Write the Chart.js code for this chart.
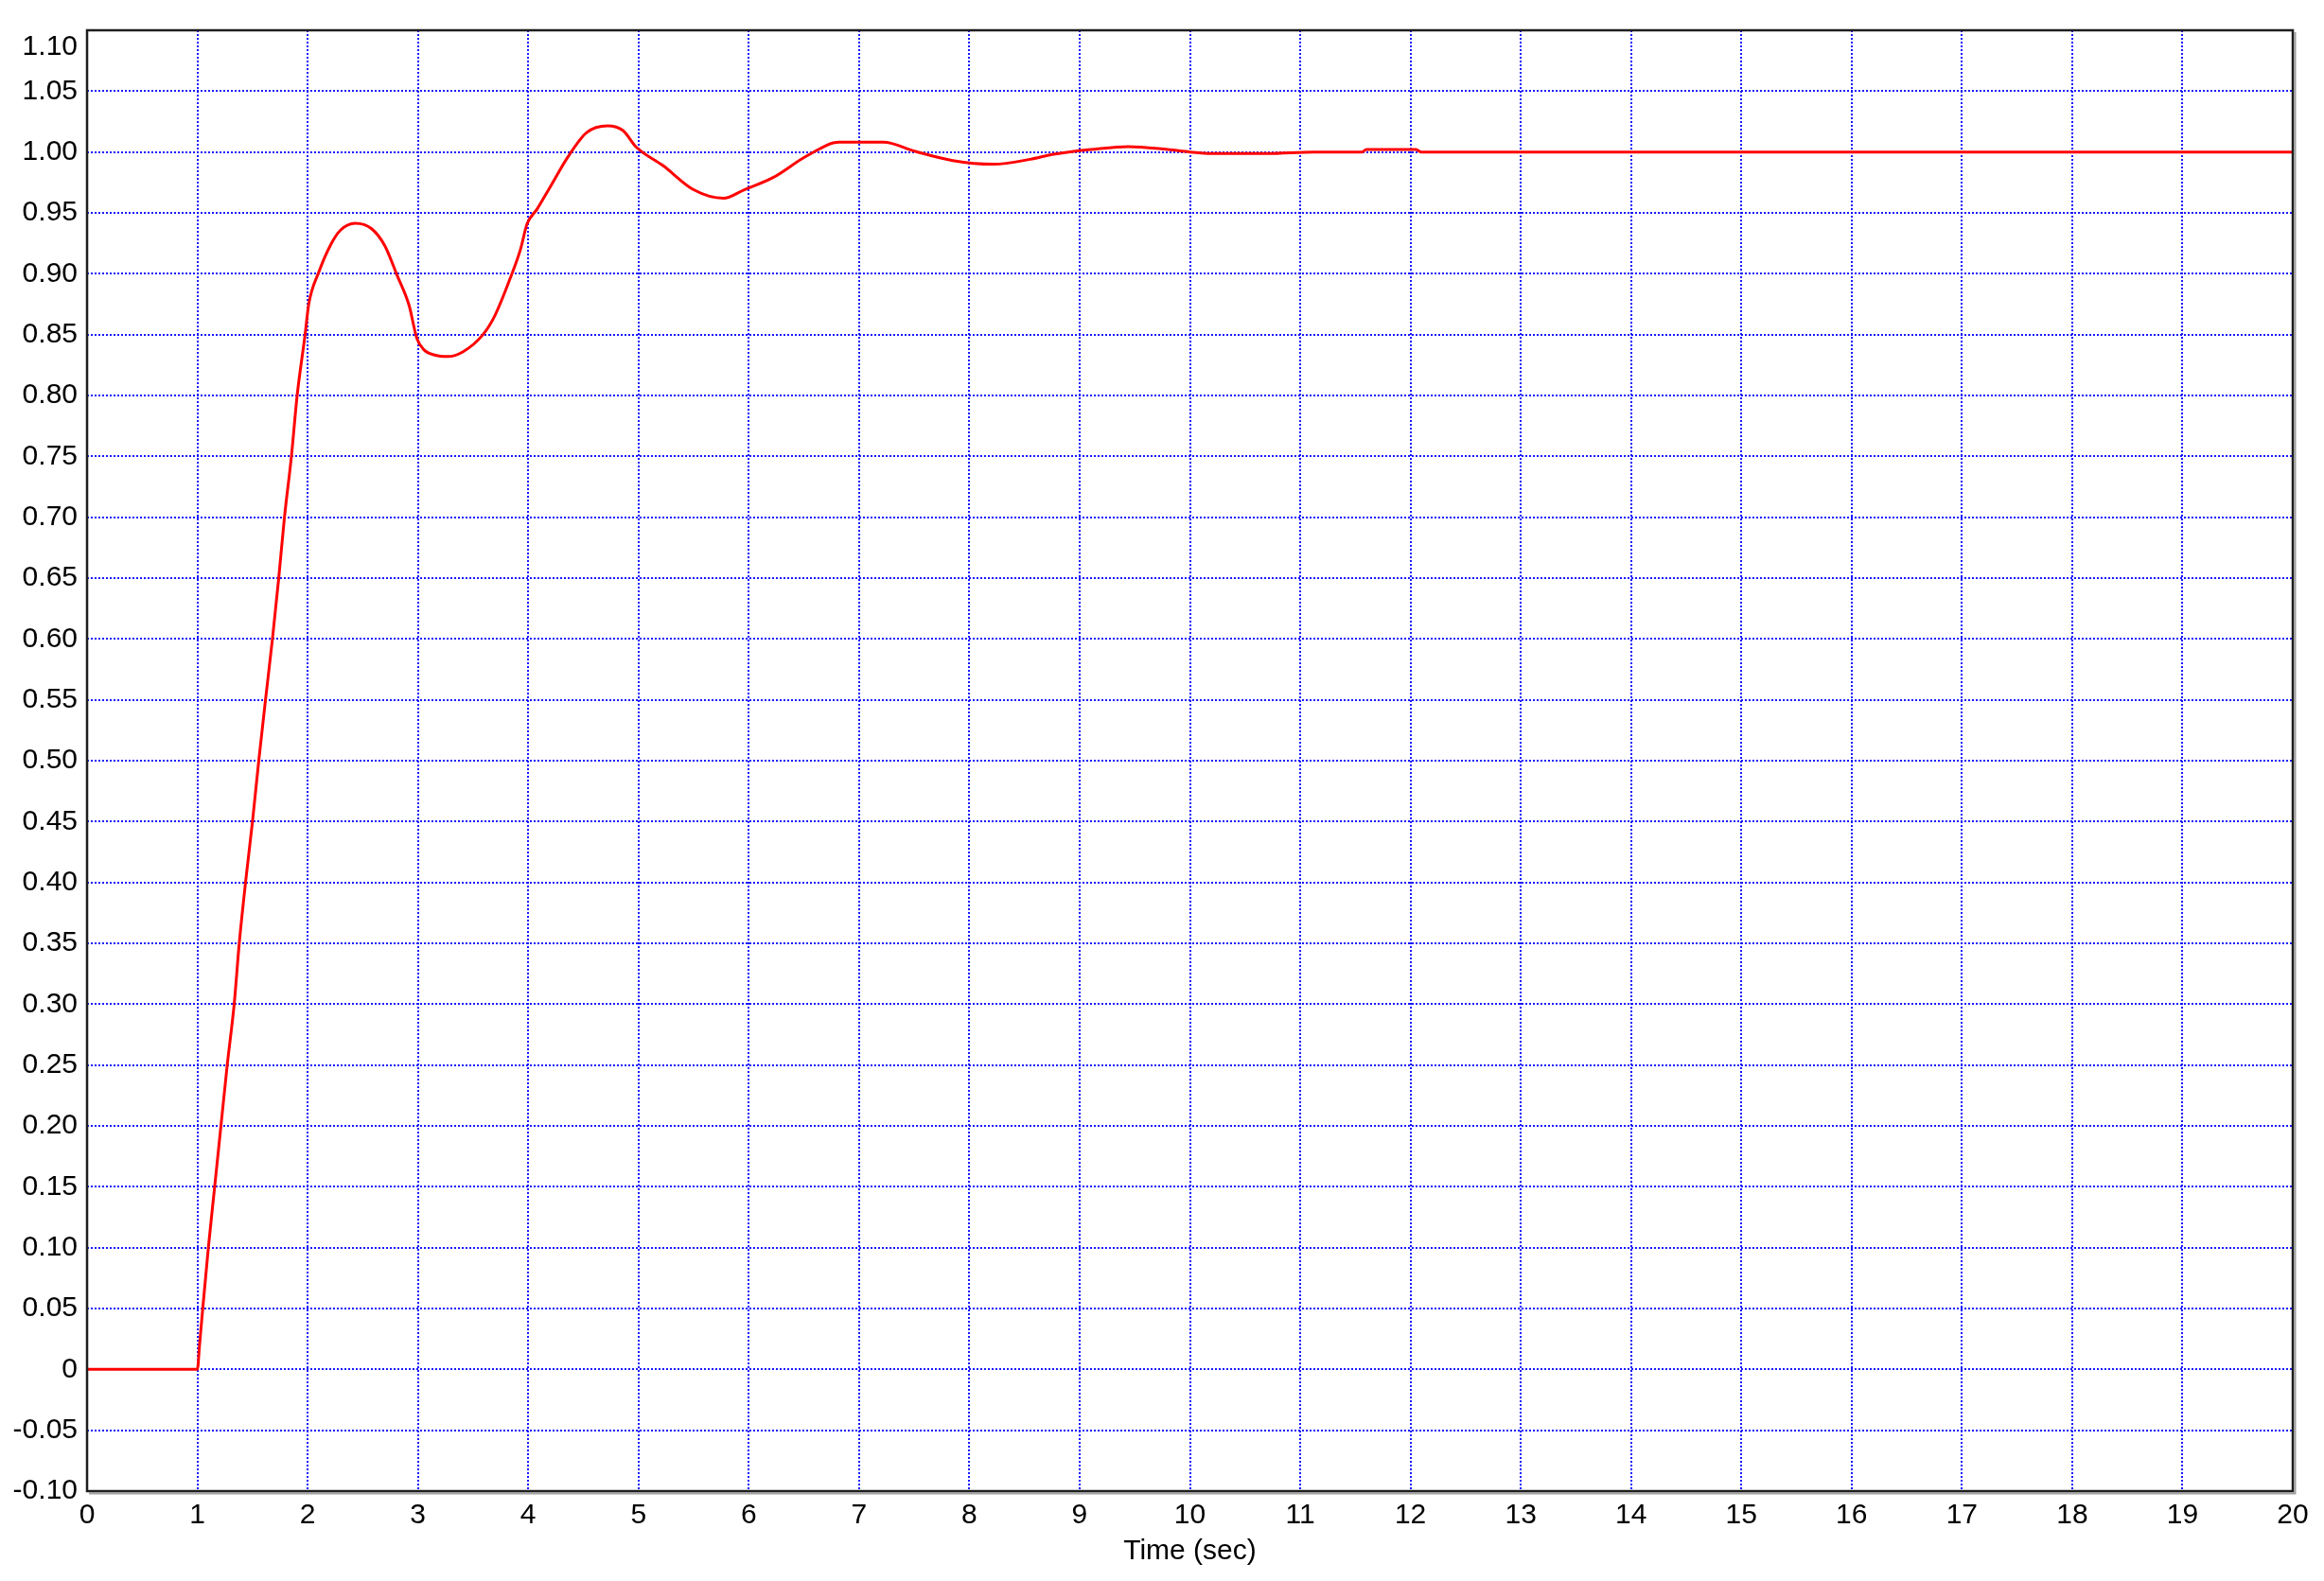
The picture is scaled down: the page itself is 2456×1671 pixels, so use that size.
<!DOCTYPE html>
<html>
<head>
<meta charset="utf-8">
<script src="https://cdn.jsdelivr.net/npm/chart.js@4/dist/chart.umd.min.js"></script>
<style>
  html, body { margin: 0; padding: 0; background: #ffffff; }
  #wrap { width: 2456px; height: 1671px; }
</style>
</head>
<body>
<div id="wrap"><canvas id="c" width="2456" height="1671"></canvas></div>
<script>
// ---- data ----
const timeSec = [
  0, 1.0, 1.02, 1.049, 1.10, 1.157, 1.214, 1.271, 1.334, 1.38, 1.437, 1.50, 1.557,
  1.618, 1.681, 1.738, 1.79, 1.853, 1.905, 1.977, 2.01, 2.10, 2.21, 2.30, 2.43,
  2.58, 2.70, 2.81, 2.92, 2.99, 3.05, 3.16, 3.27, 3.41, 3.59, 3.70, 3.84, 3.93,
  3.99, 4.08, 4.21, 4.36, 4.53, 4.72, 4.86, 4.98, 5.22, 5.50, 5.77, 5.96,
  6.22, 6.53, 6.82, 7.22, 7.51, 7.85, 8.22, 8.55, 8.75, 8.90, 9.10, 9.44, 9.80,
  10.0, 10.2, 10.7, 11.12, 11.56, 11.6, 12.05, 12.1, 20
];
const response = [
  0, 0, 0.02, 0.05, 0.10, 0.15, 0.20, 0.25, 0.30, 0.35, 0.40, 0.45, 0.50,
  0.55, 0.60, 0.65, 0.70, 0.75, 0.80, 0.85, 0.875, 0.901, 0.924, 0.936, 0.9415,
  0.937, 0.923, 0.899, 0.874, 0.847, 0.838, 0.833, 0.832, 0.836, 0.850, 0.866, 0.897, 0.920,
  0.941, 0.953, 0.973, 0.996, 1.016, 1.0215, 1.0176, 1.004, 0.989, 0.969, 0.962, 0.969,
  0.979, 0.997, 1.008, 1.008, 1.0005, 0.993, 0.990, 0.994, 0.998, 1.0, 1.002, 1.0045, 1.002,
  1.0, 0.9988, 0.9987, 1.0, 1.0, 1.002, 1.002, 1.0, 1.0
];
const xTickValues = [0,1,2,3,4,5,6,7,8,9,10,11,12,13,14,15,16,17,18,19,20];
const yTickValues = [-0.10,-0.05,0,0.05,0.10,0.15,0.20,0.25,0.30,0.35,0.40,0.45,0.50,0.55,
  0.60,0.65,0.70,0.75,0.80,0.85,0.90,0.95,1.00,1.05,1.10];
const yTickLabels = ['-0.10','-0.05','0','0.05','0.10','0.15','0.20','0.25','0.30','0.35',
  '0.40','0.45','0.50','0.55','0.60','0.65','0.70','0.75','0.80','0.85','0.90','0.95',
  '1.00','1.05','1.10'];
const xAxisTitle = 'Time (sec)';

const points = timeSec.map((t, i) => ({ x: t, y: response[i] }));

const frame = {
  id: 'frame',
  afterDatasetsDraw(chart) {
    const a = chart.chartArea, ctx = chart.ctx;
    ctx.save();
    ctx.strokeStyle = '#a0a0a0';
    ctx.lineWidth = 2;
    ctx.beginPath();
    ctx.moveTo(a.right + 2.5, a.top + 2);
    ctx.lineTo(a.right + 2.5, a.bottom + 2.5);
    ctx.lineTo(a.left + 2, a.bottom + 2.5);
    ctx.stroke();
    ctx.strokeStyle = '#1e1e1e';
    ctx.lineWidth = 2.5;
    ctx.strokeRect(a.left, a.top, a.right - a.left, a.bottom - a.top);
    ctx.restore();
  }
};

const FONT = "'Liberation Sans', Arial, sans-serif";
const GRID_COLOR = 'rgba(0,0,255,0.9)';

new Chart(document.getElementById('c'), {
  type: 'line',
  data: {
    datasets: [{
      data: points,
      borderColor: '#ff0000',
      borderWidth: 3,
      pointRadius: 0,
      fill: false,
      cubicInterpolationMode: 'monotone'
    }]
  },
  options: {
    responsive: false,
    animation: false,
    layout: { padding: { left: 0, top: 32, right: 33, bottom: 0 } },
    plugins: { legend: { display: false }, tooltip: { enabled: false } },
    scales: {
      x: {
        type: 'linear',
        min: 0, max: 20,
        afterBuildTicks(scale) { scale.ticks = xTickValues.map(v => ({ value: v })); },
        afterFit(scale) { scale.height = 95; scale.paddingLeft = 0; scale.paddingRight = 0; },
        ticks: {
          padding: 8,
          color: '#000000',
          font: { family: FONT, size: 30 },
          maxRotation: 0,
          autoSkip: false,
          callback: (v) => String(v)
        },
        grid: {
          color: GRID_COLOR,
          lineWidth: 2,
          drawTicks: false
        },
        border: { display: false, dash: [2, 2] },
        title: {
          display: true,
          text: xAxisTitle,
          color: '#000000',
          font: { family: FONT, size: 30 },
          padding: { top: 0, bottom: 13 }
        }
      },
      y: {
        type: 'linear',
        min: -0.1, max: 1.1,
        afterBuildTicks(scale) { scale.ticks = yTickValues.map(v => ({ value: v })); },
        afterFit(scale) { scale.width = 92; scale.paddingTop = 0; scale.paddingBottom = 0; },
        ticks: {
          padding: 10,
          color: '#000000',
          font: { family: FONT, size: 30 },
          autoSkip: false,
          callback: (v, i) => {
            const lbl = yTickLabels[i];
            return i === yTickLabels.length - 1 ? ['', lbl] : lbl;
          }
        },
        grid: {
          color: GRID_COLOR,
          lineWidth: 2,
          drawTicks: false
        },
        border: { display: false, dash: [2, 2] }
      }
    }
  },
  plugins: [frame]
});
</script>
</body>
</html>
